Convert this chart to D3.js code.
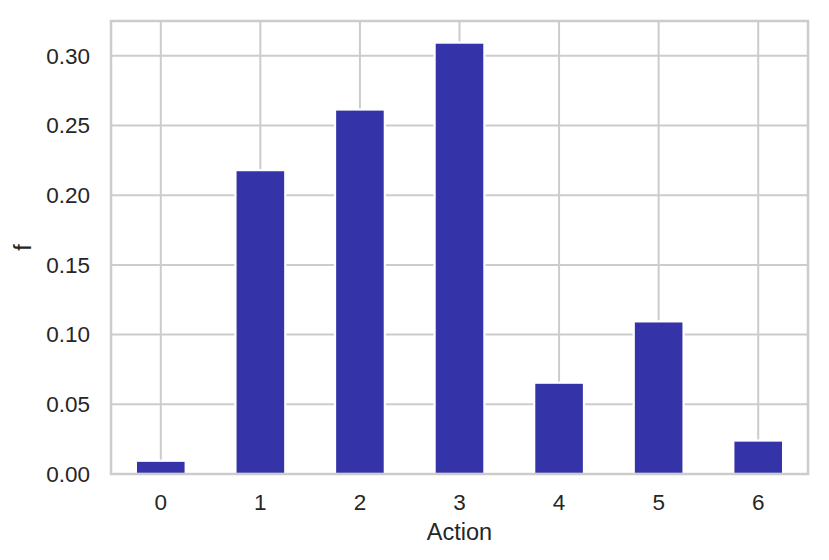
<!DOCTYPE html>
<html>
<head>
<meta charset="utf-8">
<script src="https://cdn.jsdelivr.net/npm/d3@7"></script>
<style>
  body { margin: 0; background: #fff; }
  svg text { font-family: "Liberation Sans", Arial, sans-serif; fill: #262626; }
</style>
</head>
<body>
<div id="main"></div>
<script>
var actions = ["0", "1", "2", "3", "4", "5", "6"];
var freq = [0.0095, 0.218, 0.2615, 0.3095, 0.0655, 0.1095, 0.024];
var yTicks = [0, 0.05, 0.10, 0.15, 0.20, 0.25, 0.30];

var W = 829, H = 560;
var margin = {top: 21, right: 21, bottom: 86, left: 111};
var width = W - margin.left - margin.right,
    height = H - margin.top - margin.bottom;

var translate = function(x, y) { return "translate(" + x + "," + y + ")"; };

var svg = d3.select("#main").append("svg")
    .attr("width", W)
    .attr("height", H);

var g = svg.append("g").attr("transform", translate(margin.left, margin.top));

var x = d3.scaleBand()
    .domain(actions)
    .range([0, width])
    .paddingInner(0.5)
    .paddingOuter(0.25);

var y = d3.scaleLinear()
    .domain([0, 0.325])
    .range([height, 0]);

// grid
g.append("g").selectAll("line.vg")
  .data(actions).enter().append("line")
    .attr("x1", function(d) { return x(d) + x.bandwidth() / 2; })
    .attr("x2", function(d) { return x(d) + x.bandwidth() / 2; })
    .attr("y1", 0).attr("y2", height)
    .attr("stroke", "#cccccc").attr("stroke-width", 2);

g.append("g").selectAll("line.hg")
  .data(yTicks).enter().append("line")
    .attr("x1", 0).attr("x2", width)
    .attr("y1", function(d) { return y(d); })
    .attr("y2", function(d) { return y(d); })
    .attr("stroke", "#cccccc").attr("stroke-width", 2);

// bars, white edge like the seaborn style
g.selectAll(".bar")
  .data(freq).enter().append("rect")
    .attr("class", "bar")
    .attr("x", function(d, i) { return x(actions[i]); })
    .attr("width", x.bandwidth())
    .attr("y", function(d) { return y(d); })
    .attr("height", function(d) { return height - y(d); })
    .attr("fill", "#3434a8")
    .attr("stroke", "#ffffff")
    .attr("stroke-width", 2.2);

// spines
g.append("rect")
    .attr("x", 0).attr("y", 0)
    .attr("width", width).attr("height", height)
    .attr("fill", "none")
    .attr("stroke", "#cccccc")
    .attr("stroke-width", 2.5);

// axes (text only, tick lines hidden)
var xAxis = d3.axisBottom(x).tickSize(0).tickPadding(20);
var yAxis = d3.axisLeft(y).tickValues(yTicks).tickFormat(d3.format(".2f")).tickSize(0).tickPadding(21);

var gx = g.append("g").attr("transform", translate(0, height)).call(xAxis);
var gy = g.append("g").call(yAxis);
[gx, gy].forEach(function(a) {
  a.select(".domain").remove();
  a.selectAll("text").style("font-size", "22.5px").attr("fill", "#262626");
});

g.append("text")
    .attr("x", width / 2)
    .attr("y", height + 66)
    .attr("text-anchor", "middle")
    .style("font-size", "23.5px")
    .text("Action");

g.append("text")
    .attr("transform", translate(-80, height / 2) + " rotate(-90)")
    .attr("text-anchor", "middle")
    .style("font-size", "23.5px")
    .text("f");
</script>
</body>
</html>
